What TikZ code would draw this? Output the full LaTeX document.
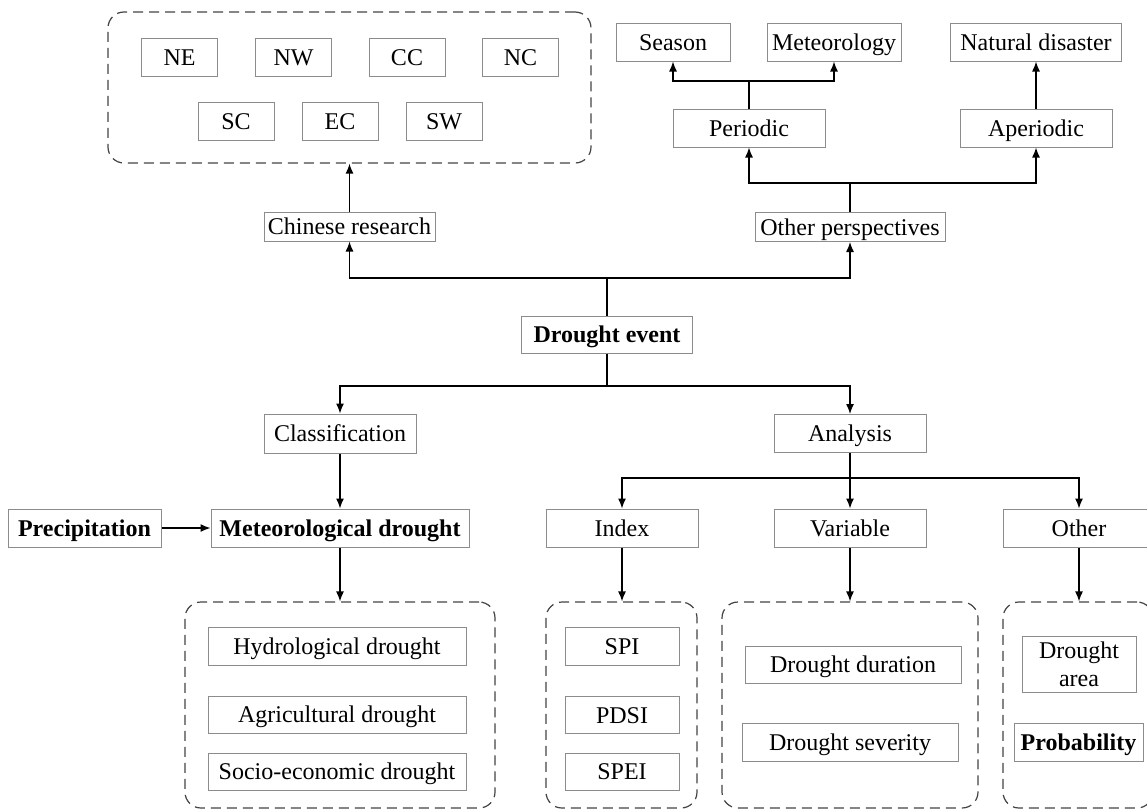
\documentclass[tikz,border=0pt]{standalone}
\usepackage{fontspec}
\setmainfont{Liberation Serif}
\usetikzlibrary{arrows.meta}
\definecolor{boxline}{HTML}{8C8C8C}
\definecolor{grpline}{HTML}{444444}
\tikzset{
  bxbase/.style={draw=boxline, line width=1pt, fill=white, inner sep=0pt, align=center,
    font=\fontsize{24}{26}\selectfont, text=black},
  bx/.style={bxbase, text height=18pt, text depth=2pt},
  bbx/.style={bx, font=\fontsize{24}{26}\selectfont\bfseries},
  grp/.style={draw=grpline, line width=1.2pt, rounded corners=16pt, dash pattern=on 10pt off 6pt, inner sep=0pt},
  arr/.style={line width=1.3pt, -{Latex[length=10pt,width=8pt]}},
  ln/.style={line width=1.3pt}
}
\begin{document}
\begin{tikzpicture}[x=1pt,y=-1pt]
\useasboundingbox[fill=white] (0,0) rectangle (1147,811);

% top-left group
\node[grp, minimum width=483pt, minimum height=151pt] (tl) at (349.5,87.5) {};
\node[bx, minimum width=76pt, minimum height=38pt] (ne) at (179.5,57) {NE};
\node[bx, minimum width=76pt, minimum height=38pt] (nw) at (293.5,57) {NW};
\node[bx, minimum width=76pt, minimum height=38pt] (cc) at (407,57) {CC};
\node[bx, minimum width=76pt, minimum height=38pt] (nc) at (520.5,57) {NC};
\node[bx, minimum width=76pt, minimum height=38pt] (sc) at (236,121) {SC};
\node[bx, minimum width=76pt, minimum height=38pt] (ec) at (340,121) {EC};
\node[bx, minimum width=76pt, minimum height=38pt] (sw) at (444,121) {SW};

\node[bx, minimum width=171pt, minimum height=29pt] (cr) at (349.5,226.5) {Chinese research};
\node[bx, minimum width=190pt, minimum height=29pt] (op) at (850,227) {Other perspectives};

\node[bx, minimum width=114pt, minimum height=38pt] (se) at (673,42) {Season};
\node[bx, minimum width=134pt, minimum height=38pt] (me) at (834,42) {Meteorology};
\node[bx, minimum width=171pt, minimum height=38pt] (nd) at (1036,42) {Natural disaster};
\node[bx, minimum width=152pt, minimum height=38pt] (pe) at (749,128) {Periodic};
\node[bx, minimum width=152pt, minimum height=38pt] (ap) at (1036,128) {Aperiodic};

\node[bbx, minimum width=171pt, minimum height=37pt] (de) at (607,334.5) {Drought event};

\node[bx, minimum width=152pt, minimum height=39pt] (cl) at (340,433.5) {Classification};
\node[bx, minimum width=152pt, minimum height=38pt] (an) at (850,433.5) {Analysis};

\node[bbx, minimum width=153pt, minimum height=38pt] (pr) at (84.5,528) {Precipitation};
\node[bbx, minimum width=258pt, minimum height=38pt] (md) at (340,528) {Meteorological drought};
\node[bx, minimum width=152pt, minimum height=38pt] (ix) at (622,528) {Index};
\node[bx, minimum width=152pt, minimum height=38pt] (va) at (850,528) {Variable};
\node[bx, minimum width=152pt, minimum height=38pt] (ot) at (1079,528) {Other};

% bottom groups
\node[grp, minimum width=310pt, minimum height=206pt] (g1) at (340,705) {};
\node[grp, minimum width=151pt, minimum height=206pt] (g2) at (621.5,705) {};
\node[grp, minimum width=256pt, minimum height=206pt] (g3) at (850,705) {};
\node[grp, minimum width=150pt, minimum height=206pt] (g4) at (1078,705) {};

\node[bx, minimum width=258pt, minimum height=38pt] (hy) at (337,646) {Hydrological drought};
\node[bx, minimum width=258pt, minimum height=37pt] (ag) at (337,714.5) {Agricultural drought};
\node[bx, minimum width=258pt, minimum height=37pt] (so) at (337,771.5) {Socio-economic drought};

\node[bx, minimum width=114pt, minimum height=38pt] (spi) at (622,646) {SPI};
\node[bx, minimum width=114pt, minimum height=37pt] (pdsi) at (622,715) {PDSI};
\node[bx, minimum width=114pt, minimum height=37pt] (spei) at (622,771.5) {SPEI};

\node[bx, minimum width=216pt, minimum height=37pt] (dd) at (853,664.5) {Drought duration};
\node[bx, minimum width=216pt, minimum height=38pt] (ds) at (850,742) {Drought severity};

\node[bxbase, minimum width=114pt, minimum height=56pt, font=\fontsize{24}{28}\selectfont] (da) at (1079,664) {Drought\\area};
\node[bbx, minimum width=129pt, minimum height=38pt] (pb) at (1078.5,742) {Probability};

% connectors
\draw[arr] (cr.north) -- (tl.south -| cr.north);

\coordinate (j1) at (607,278);
\draw[ln] (de.north) -- (j1);
\draw[arr] (j1) -| (cr.south);
\draw[arr] (j1) -| (op.south);

\coordinate (j2) at (850,183);
\draw[ln] (op.north) -- (j2);
\draw[arr] (j2) -| (pe.south);
\draw[arr] (j2) -| (ap.south);

\coordinate (j3) at (749,81);
\draw[ln] (pe.north) -- (j3);
\draw[arr] (j3) -| (se.south);
\draw[arr] (j3) -| (me.south);

\draw[arr] (ap.north) -- (nd.south);

\coordinate (j4) at (607,386);
\draw[ln] (de.south) -- (j4);
\draw[arr] (j4) -| (cl.north);
\draw[arr] (j4) -| (an.north);

\draw[arr] (cl.south) -- (md.north);
\draw[arr] (pr.east) -- (md.west);
\draw[arr] (md.south) -- (g1.north);

\coordinate (j5) at (850,478);
\draw[ln] (an.south) -- (j5);
\draw[arr] (j5) -| (ix.north);
\draw[arr] (j5) -- (va.north);
\draw[arr] (j5) -| (ot.north);

\draw[arr] (ix.south) -- (g2.north -| ix.south);
\draw[arr] (va.south) -- (g3.north);
\draw[arr] (ot.south) -- (g4.north -| ot.south);
\end{tikzpicture}
\end{document}
